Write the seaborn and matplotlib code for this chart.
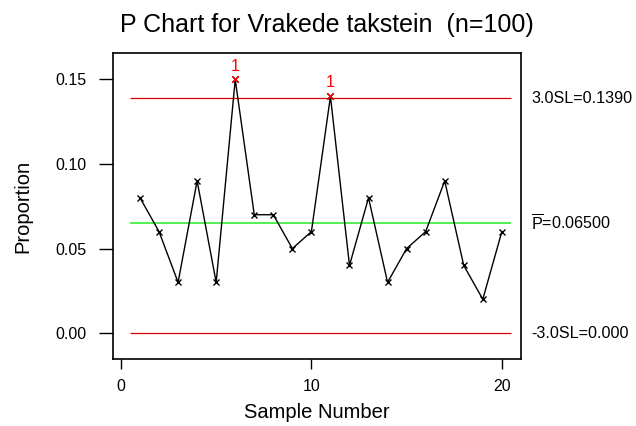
import matplotlib
matplotlib.use('Agg')
import matplotlib.pyplot as plt
import seaborn as sns

# P chart data
samples = list(range(1, 21))
proportion = [0.08, 0.06, 0.03, 0.09, 0.03, 0.15, 0.07, 0.07, 0.05, 0.06,
              0.14, 0.04, 0.08, 0.03, 0.05, 0.06, 0.09, 0.04, 0.02, 0.06]
out_samples = [6, 11]
ucl = 0.1390
center = 0.06500
lcl = 0.000
yticks = [0.00, 0.05, 0.10, 0.15]
xticks = [0, 10, 20]


def plot_p_chart():
    sns.set_style('ticks')
    plt.rcParams['font.family'] = ['Liberation Sans', 'DejaVu Sans']
    plt.rcParams['mathtext.fontset'] = 'custom'
    plt.rcParams['mathtext.rm'] = 'Liberation Sans'
    plt.rcParams['mathtext.it'] = 'Liberation Sans'
    plt.rcParams['text.color'] = 'black'
    plt.rcParams['axes.labelcolor'] = 'black'
    plt.rcParams['xtick.color'] = 'black'
    plt.rcParams['ytick.color'] = 'black'

    fig = plt.figure(figsize=(6.36, 4.26), dpi=100)
    ax = fig.add_axes([0.177, 0.157, 0.642, 0.718])

    lo, hi = samples[0] - 0.5, samples[-1] + 0.5
    ax.hlines([ucl, lcl], lo, hi, color='#e00000', lw=0.9)
    ax.hlines(center, lo, hi, color='#33ee33', lw=1.2)

    sns.lineplot(x=samples, y=proportion, color='black', lw=1.0,
                 marker='x', markersize=4.5, markeredgewidth=1.0,
                 markeredgecolor='black', ax=ax)

    out_vals = [proportion[samples.index(s)] for s in out_samples]
    sns.scatterplot(x=out_samples, y=out_vals, color='red', marker='x',
                    s=22, linewidth=1.0, ax=ax, zorder=5)
    for s, v in zip(out_samples, out_vals):
        ax.text(s, v + 0.0035, '1', color='red', ha='center', va='bottom',
                fontsize=11.5)

    ax.set_xlim(-0.44, 21.0)
    ax.set_ylim(-0.0154, 0.1655)
    ax.set_xticks(xticks)
    ax.set_yticks(yticks)
    ax.set_yticklabels([f'{t:.2f}' for t in yticks])
    ax.tick_params(axis='y', length=10, width=1, labelsize=11.5, pad=8.5)
    ax.tick_params(axis='x', length=7.5, width=1, labelsize=11.5, pad=6.5)
    for sp in ax.spines.values():
        sp.set_linewidth(1.2)
        sp.set_color('black')

    trans = ax.get_yaxis_transform()
    ax.text(1.025, ucl, '3.0SL=0.1390', transform=trans, va='center',
            ha='left', fontsize=11.6)
    ax.text(1.025, center, r'$\overline{\mathrm{P}}$=0.06500', transform=trans,
            va='center', ha='left', fontsize=11.6)
    ax.text(1.025, lcl, '-3.0SL=0.000', transform=trans, va='center',
            ha='left', fontsize=11.6)

    fig.text(0.514, 0.925, 'P Chart for Vrakede takstein  (n=100)',
             fontsize=18, ha='center', va='baseline')
    ax.set_xlabel('Sample Number', fontsize=14.5, labelpad=7)
    ax.set_ylabel('Proportion', fontsize=14.5, labelpad=17)

    fig.savefig('out.png', dpi=100)


if __name__ == '__main__':
    plot_p_chart()
